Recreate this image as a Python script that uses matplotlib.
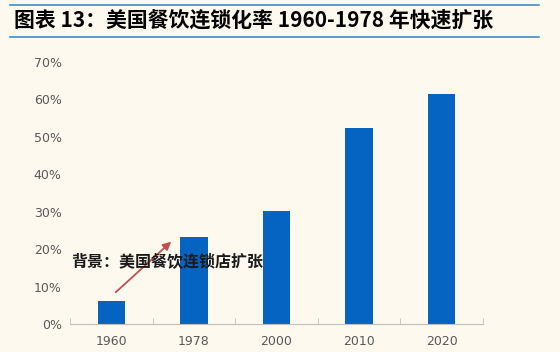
import matplotlib.pyplot as plt
import numpy as np

years = ['1960', '1978', '2000', '2010', '2020']
rate = [6.1, 23.3, 30.2, 52.4, 61.5]
yticks = [0, 10, 20, 30, 40, 50, 60, 70]

bg = '#FDF9EE'
plt.rcParams['font.family'] = ['Noto Sans CJK SC', 'DejaVu Sans']

fig = plt.figure(figsize=(5.6, 3.52), dpi=100, facecolor=bg)
ax = fig.add_axes([0.125, 0.0795, 0.7375, 0.7445], facecolor=bg)

x = np.arange(len(years))
ax.bar(x, rate, width=0.33, color='#0563C1', zorder=2)

ax.set_xlim(-0.5, len(years) - 0.5)
ax.set_ylim(0, 70)
ax.set_yticks(yticks)
ax.set_yticklabels([f'{v}%' for v in yticks], fontsize=9, color='#595959', family='DejaVu Sans')
ax.set_xticks(x)
ax.set_xticklabels(years, fontsize=9, color='#595959', family='DejaVu Sans')
ax.tick_params(axis='y', length=0, pad=6)
ax.tick_params(axis='x', length=0, pad=8)
ax.set_xticks(np.arange(-0.5, len(years), 1), minor=True)
ax.tick_params(axis='x', which='minor', direction='in', length=4, color='#BFBFBF')

for s in ['top', 'right', 'left']:
    ax.spines[s].set_visible(False)
ax.spines['bottom'].set_color('#BFBFBF')

# annotation
ax.annotate('', xy=(0.75, 22.5), xytext=(0.03, 8.0),
            arrowprops=dict(arrowstyle='-|>', color='#C0504D', lw=1.3, mutation_scale=12))
ax.text(-0.49, 16.8, '背景：美国餐饮连锁店扩张', fontsize=11.5, fontweight='bold',
        color='#1a1a1a', va='center', ha='left', zorder=3)

# title with rules
fig.text(0.025, 0.942, '图表 13：美国餐饮连锁化率 1960-1978 年快速扩张', fontsize=15,
         fontweight='bold', style='italic', color='black', va='center', ha='left')
fig.add_artist(plt.Line2D([0.018, 0.962], [0.985, 0.985], color='#3A8FD0', lw=1.2))
fig.add_artist(plt.Line2D([0.018, 0.962], [0.895, 0.895], color='#3A8FD0', lw=1.2))

fig.savefig('out.png', dpi=100, facecolor=bg)
